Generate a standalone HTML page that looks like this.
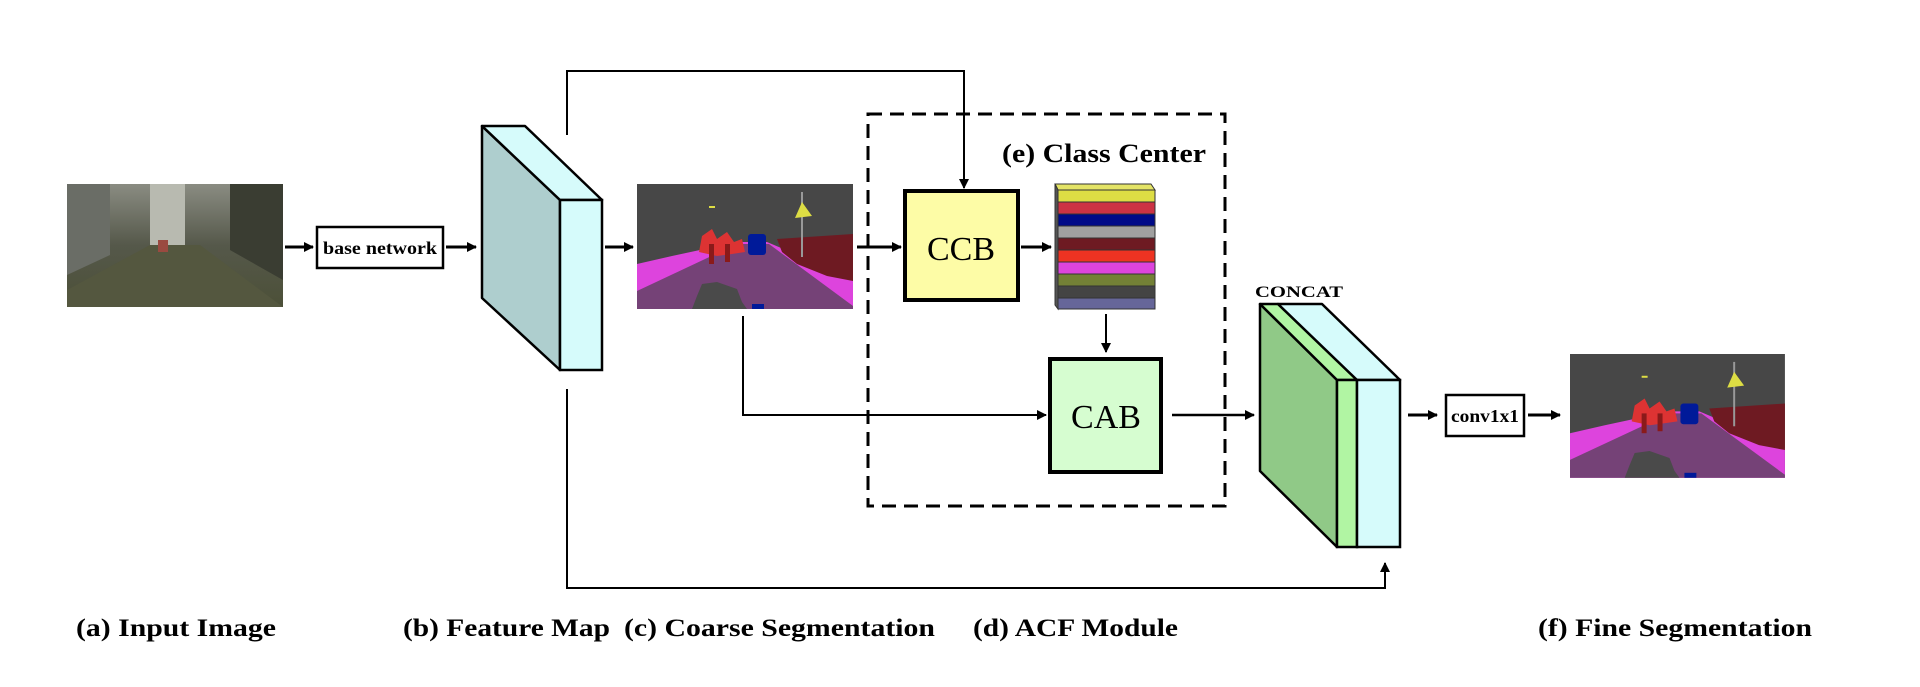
<!DOCTYPE html>
<html><head><meta charset="utf-8"><style>html,body{margin:0;padding:0;background:#fff;}svg{display:block}</style></head>
<body>
<svg width="1920" height="687" viewBox="0 0 1920 687" xmlns="http://www.w3.org/2000/svg" font-family="Liberation Serif, serif">
<defs>
<marker id="ah" markerWidth="10" markerHeight="10" refX="9" refY="5" orient="auto" markerUnits="userSpaceOnUse">
<path d="M0,0 L10,5 L0,10 z" fill="#000"/></marker>
<g id="seg">
<rect x="0" y="0" width="216" height="125" fill="#474747"/>
<polygon points="0,80 35,72 100,58 130,58 170,75 216,95 216,125 0,125" fill="#dd44dd"/>
<polygon points="0,107 100,60 132,60 216,122 216,125 0,125" fill="#754277"/>
<polygon points="140,55 216,50 216,97 190,92 160,80 145,68" fill="#6e1a22"/>
<polygon points="62,68 65,52 75,45 80,55 90,48 97,58 105,55 108,68 95,70 80,72" fill="#dd3333"/>
<rect x="72" y="60" width="5" height="20" fill="#8a1a1a"/><rect x="88" y="60" width="5" height="18" fill="#8a1a1a"/>
<rect x="111" y="50" width="18" height="21" rx="3" fill="#001a99"/>
<rect x="164" y="8" width="2" height="65" fill="#999"/>
<polygon points="158,34 165,18 175,32" fill="#dddd44"/>
<rect x="72" y="22" width="6" height="2" fill="#dddd44"/>
<polygon points="60,112 65,100 80,98 100,105 105,118 110,125 55,125" fill="#4a4a4a"/>
<rect x="115" y="120" width="12" height="5" fill="#001a99"/>
</g>
<linearGradient id="sky" x1="0" y1="0" x2="0" y2="1"><stop offset="0" stop-color="#8a8c82"/><stop offset="0.5" stop-color="#55584a"/><stop offset="1" stop-color="#4c5038"/></linearGradient>
</defs>

<!-- input image -->
<rect x="67" y="184" width="216" height="123" fill="url(#sky)"/>
<polygon points="67,184 110,184 110,255 67,275" fill="#6a6d66"/>
<polygon points="150,184 185,184 185,245 150,245" fill="#b8bab0"/>
<polygon points="230,184 283,184 283,280 230,250" fill="#3a3d32"/>
<polygon points="67,290 150,245 200,245 283,307 67,307" fill="#54573f"/>
<rect x="158" y="240" width="10" height="12" fill="#9a4a40"/>

<!-- arrows -->
<line x1="285" y1="247" x2="313" y2="247" stroke="#000" stroke-width="3" marker-end="url(#ah)"/>
<rect x="317" y="227" width="126" height="41" fill="#fff" stroke="#000" stroke-width="2.5"/>
<text x="380" y="254" font-size="18" font-weight="bold" text-anchor="middle" textLength="114" lengthAdjust="spacingAndGlyphs">base network</text>
<line x1="446" y1="247" x2="476" y2="247" stroke="#000" stroke-width="3" marker-end="url(#ah)"/>

<!-- feature map -->
<polygon points="482,126 560,200 560,370 482,298" fill="#aecece" stroke="#000" stroke-width="2.5" stroke-linejoin="round"/>
<polygon points="482,126 525,126 602,200 560,200" fill="#d6fbfb" stroke="#000" stroke-width="2.5" stroke-linejoin="round"/>
<rect x="560" y="200" width="42" height="170" fill="#d6fbfb" stroke="#000" stroke-width="2.5"/>

<line x1="605" y1="247" x2="633" y2="247" stroke="#000" stroke-width="3" marker-end="url(#ah)"/>
<use href="#seg" x="637" y="184"/>

<!-- top connector -->
<polyline points="567,135 567,71 964,71 964,188" fill="none" stroke="#000" stroke-width="2" marker-end="url(#ah)"/>

<!-- dashed box -->
<rect x="868" y="114" width="357" height="392" fill="none" stroke="#000" stroke-width="3" stroke-dasharray="14,8"/>
<text x="1104" y="162" font-size="26" font-weight="bold" text-anchor="middle" textLength="204" lengthAdjust="spacingAndGlyphs">(e) Class Center</text>

<line x1="857" y1="247" x2="901" y2="247" stroke="#000" stroke-width="3" marker-end="url(#ah)"/>
<rect x="905" y="191" width="113" height="109" fill="#fdfca6" stroke="#000" stroke-width="4"/>
<text x="961" y="260" font-size="34" text-anchor="middle">CCB</text>
<line x1="1021" y1="247" x2="1051" y2="247" stroke="#000" stroke-width="3" marker-end="url(#ah)"/>

<!-- stack -->
<g stroke="#333" stroke-width="1">
<polygon points="1055,184 1151,184 1155,190 1058,190" fill="#e4e466"/>
<rect x="1058" y="190" width="97" height="12" fill="#dddd44"/>
<rect x="1058" y="202" width="97" height="12" fill="#cc3344"/>
<rect x="1058" y="214" width="97" height="12" fill="#000a88"/>
<rect x="1058" y="226" width="97" height="12" fill="#a0a0a0"/>
<rect x="1058" y="238" width="97" height="12" fill="#6e1a22"/>
<rect x="1058" y="250" width="97" height="12" fill="#ee3322"/>
<rect x="1058" y="262" width="97" height="12" fill="#dd44dd"/>
<rect x="1058" y="274" width="97" height="12" fill="#738036"/>
<rect x="1058" y="286" width="97" height="12" fill="#444444"/>
<rect x="1058" y="298" width="97" height="11" fill="#666699"/>
<polygon points="1055,184 1058,190 1058,309 1055,305" fill="#555"/>
</g>
<line x1="1106" y1="314" x2="1106" y2="352" stroke="#000" stroke-width="2" marker-end="url(#ah)"/>

<rect x="1050" y="359" width="111" height="113" fill="#d6fdd0" stroke="#000" stroke-width="4"/>
<text x="1106" y="428" font-size="34" text-anchor="middle">CAB</text>

<polyline points="743,316 743,415 1046,415" fill="none" stroke="#000" stroke-width="2" marker-end="url(#ah)"/>
<line x1="1172" y1="415" x2="1254" y2="415" stroke="#000" stroke-width="2.5" marker-end="url(#ah)"/>

<!-- concat -->
<text x="1299" y="297" font-size="16" font-weight="bold" text-anchor="middle" textLength="88" lengthAdjust="spacingAndGlyphs">CONCAT</text>
<polygon points="1260,304 1337,380 1337,547 1260,471" fill="#90c987" stroke="#000" stroke-width="2.5" stroke-linejoin="round"/>
<polygon points="1260,304 1278,304 1357,380 1337,380" fill="#b1f5a3" stroke="#000" stroke-width="2.5" stroke-linejoin="round"/>
<polygon points="1278,304 1322,304 1400,380 1357,380" fill="#d6fbfb" stroke="#000" stroke-width="2.5" stroke-linejoin="round"/>
<rect x="1337" y="380" width="20" height="167" fill="#b1f5a3" stroke="#000" stroke-width="2.5"/>
<rect x="1357" y="380" width="43" height="167" fill="#d6fbfb" stroke="#000" stroke-width="2.5"/>

<polyline points="567,389 567,588 1385,588 1385,563" fill="none" stroke="#000" stroke-width="2" marker-end="url(#ah)"/>

<line x1="1408" y1="415" x2="1437" y2="415" stroke="#000" stroke-width="3" marker-end="url(#ah)"/>
<rect x="1446" y="395" width="78" height="41" fill="#fff" stroke="#000" stroke-width="2.5"/>
<text x="1485" y="422" font-size="18" font-weight="bold" text-anchor="middle" textLength="68" lengthAdjust="spacingAndGlyphs">conv1x1</text>
<line x1="1528" y1="415" x2="1560" y2="415" stroke="#000" stroke-width="3" marker-end="url(#ah)"/>
<use href="#seg" transform="translate(1570,354) scale(0.995,0.99)"/>

<!-- labels -->
<g font-size="25" font-weight="bold" lengthAdjust="spacingAndGlyphs">
<text x="76" y="636" textLength="200" lengthAdjust="spacingAndGlyphs">(a) Input Image</text>
<text x="403" y="636" textLength="207" lengthAdjust="spacingAndGlyphs">(b) Feature Map</text>
<text x="624" y="636" textLength="311" lengthAdjust="spacingAndGlyphs">(c) Coarse Segmentation</text>
<text x="973" y="636" textLength="205" lengthAdjust="spacingAndGlyphs">(d) ACF Module</text>
<text x="1538" y="636" textLength="274" lengthAdjust="spacingAndGlyphs">(f) Fine Segmentation</text>
</g>
</svg>
</body></html>
